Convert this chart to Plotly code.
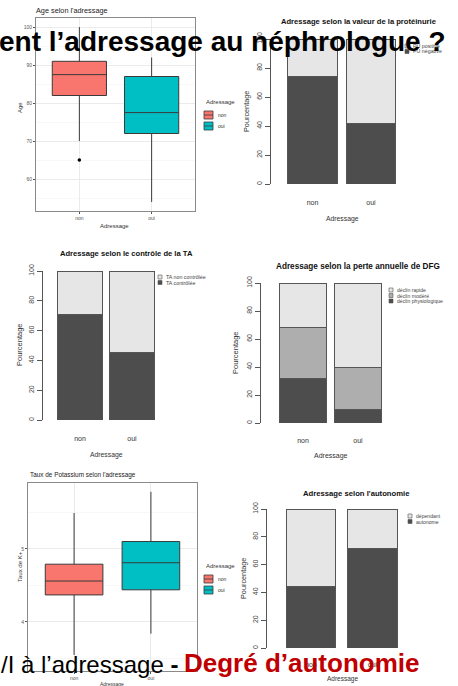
import plotly.graph_objects as go

W, H = 458, 686
FONT = "Liberation Sans, Arial, sans-serif"

# ---------------- data ----------------
groups = ["non", "oui"]

# Age selon l'adressage (boxplot stats)
age_q1 = [82, 72]
age_median = [87.5, 77.5]
age_q3 = [91, 87]
age_low = [70, 54]
age_high = [100, 92]
age_outlier_group = ["non"]
age_outlier = [65]

# Taux de Potassium selon l'adressage
k_q1 = [4.37, 4.44]
k_median = [4.56, 4.81]
k_q3 = [4.79, 5.10]
k_low = [3.55, 3.84]
k_high = [5.49, 5.78]

# Proteinurie (%)
pu_names = ["PU négative", "PU positive"]
pu_negative = [74, 42]
pu_positive = [26, 58]

# Controle de la TA (%)
ta_names = ["TA contrôlée", "TA non contrôlée"]
ta_controlee = [71, 45]
ta_non_controlee = [29, 55]

# Perte annuelle de DFG (%)
dfg_names = ["déclin physiologique", "déclin modéré", "déclin rapide"]
dfg_physio = [31.5, 10]
dfg_modere = [37, 29.5]
dfg_rapide = [31.5, 60.5]

# Autonomie (%)
auto_names = ["autonome", "dépendant"]
auto_autonome = [44.5, 71.5]
auto_dependant = [55.5, 28.5]

box_colors = ["#F8766D", "#00BFC4"]
grey3 = ["#4D4D4D", "#AEAEAE", "#E6E6E6"]


def fx(x):
    return x / W


def fy(y):
    return 1 - y / H


fig = go.Figure()
annotations = []
shapes = []


def txt(x, y, s, size, color="#333333", xanchor="center", yanchor="middle", angle=0):
    annotations.append(dict(x=fx(x), y=fy(y), xref="paper", yref="paper", text=s,
                            showarrow=False, xanchor=xanchor, yanchor=yanchor,
                            textangle=angle, font=dict(size=size, color=color, family=FONT)))


# ---------------- ggplot-style boxplots ----------------
def gg_box(axn, q1, med, q3, lo, hi):
    for i, g in enumerate(groups):
        fig.add_trace(go.Box(
            x=[g], q1=[q1[i]], median=[med[i]], q3=[q3[i]],
            lowerfence=[lo[i]], upperfence=[hi[i]],
            fillcolor=box_colors[i], line=dict(color="#3a3a3a", width=1),
            whiskerwidth=0, width=0.75, boxpoints=False, showlegend=False,
            xaxis="x" + axn, yaxis="y" + axn, hoverinfo="skip"))


def gg_axes(axn, xd, yd, yr, dtick, minor_dtick):
    xa = dict(domain=[fx(xd[0]), fx(xd[1])], range=[-0.6, 1.6], type="category",
              showgrid=True, gridcolor="#ebebeb", gridwidth=1, showline=True,
              linecolor="#8a8a8a", linewidth=1, mirror=True, ticks="outside",
              ticklen=2, tickcolor="#555", tickfont=dict(size=5, color="#555", family=FONT),
              zeroline=False, fixedrange=True, automargin=False)
    ya = dict(domain=[fy(yd[1]), fy(yd[0])], range=yr, dtick=dtick,
              showgrid=True, gridcolor="#ebebeb", gridwidth=1, showline=True,
              linecolor="#8a8a8a", linewidth=1, mirror=True, ticks="outside",
              ticklen=2, tickcolor="#555", tickfont=dict(size=5, color="#555", family=FONT),
              minor=dict(dtick=minor_dtick, showgrid=True, gridcolor="#f4f4f4", gridwidth=0.6),
              zeroline=False, fixedrange=True, automargin=False)
    xa["anchor"] = "y" + axn
    ya["anchor"] = "x" + axn
    return xa, ya


def gg_legend(x, ytitle):
    txt(x, ytitle, "Adressage", 6, xanchor="left")
    for i, g in enumerate(groups):
        yc = ytitle + 13 + 11 * i
        shapes.append(dict(type="rect", xref="paper", yref="paper",
                           x0=fx(x), x1=fx(x + 9), y0=fy(yc + 4), y1=fy(yc - 4),
                           fillcolor=box_colors[i], line=dict(color="#3a3a3a", width=0.8)))
        shapes.append(dict(type="line", xref="paper", yref="paper",
                           x0=fx(x), x1=fx(x + 9), y0=fy(yc), y1=fy(yc),
                           line=dict(color="#3a3a3a", width=0.8)))
        txt(x + 12, yc, g, 5, xanchor="left")


# Panel 1: Age
gg_box("", age_q1, age_median, age_q3, age_low, age_high)
fig.add_trace(go.Scatter(x=age_outlier_group, y=age_outlier, mode="markers",
                         marker=dict(size=3.5, color="black"), showlegend=False,
                         xaxis="x", yaxis="y", hoverinfo="skip"))
xa, ya = gg_axes("", (36, 195), (18, 211), [51.6, 102.4], 10, 5)
fig.update_layout(xaxis=xa, yaxis=ya)
txt(34, 10, "Age selon l'adressage", 7.3, xanchor="left", color="#222")
txt(115, 226, "Adressage", 6)
txt(20, 108, "Age", 6, angle=-90)
gg_legend(204, 102)

# Panel 5: Potassium
gg_box("5", k_q1, k_median, k_q3, k_low, k_high)
xa, ya = gg_axes("5", (28, 197), (483, 671), [3.33, 5.90], 1, 0.5)
fig.update_layout(xaxis5=xa, yaxis5=ya)
txt(28, 475, "Taux de Potassium selon l'adressage", 6.4, xanchor="left", color="#222")
txt(112, 684, "Adressage", 5)
txt(20, 567, "Taux de K+", 6, angle=-90)
gg_legend(204, 566)


# ---------------- R base-style stacked barplots ----------------
def r_bars(axn, series, colors, width):
    for vals, col in zip(series, colors):
        fig.add_trace(go.Bar(x=groups, y=vals, marker=dict(color=col, line=dict(color="#555", width=1)),
                             width=width, showlegend=False, xaxis="x" + axn, yaxis="y" + axn,
                             hoverinfo="skip"))


def r_axes(axn, ax_left, ax_right, c0, c1, y0, y100, lab_gap):
    sp = c1 - c0
    xa = dict(domain=[fx(ax_left), fx(ax_right)],
              range=[-(c0 - ax_left) / sp, 1 + (ax_right - c1) / sp], type="category",
              showline=False, showgrid=False, zeroline=False, ticks="outside", ticklen=lab_gap,
              tickcolor="rgba(0,0,0,0)", tickfont=dict(size=7, color="#333333", family=FONT),
              anchor="y" + axn, fixedrange=True, automargin=False)
    ya = dict(domain=[fy(y0), fy(y100)], range=[0, 100], dtick=20, showline=True,
              linecolor="#555", linewidth=1, ticks="outside", ticklen=5, tickcolor="#555",
              tickangle=-90, tickfont=dict(size=7, color="#444444", family=FONT),
              showgrid=False, zeroline=False, anchor="x" + axn, fixedrange=True,
              automargin=False)
    return xa, ya


def r_legend(x, ytop, names, colors, size):
    n = len(names)
    for k in range(n):
        idx = n - 1 - k
        yc = ytop + 5.5 * k
        shapes.append(dict(type="rect", xref="paper", yref="paper",
                           x0=fx(x), x1=fx(x + 4), y0=fy(yc + 2), y1=fy(yc - 2),
                           fillcolor=colors[idx], line=dict(color="#555", width=0.6)))
        txt(x + 5.5, yc, names[idx], size, xanchor="left", color="#444")


# Panel 2: proteinurie
r_bars("2", [pu_negative, pu_positive], [grey3[0], grey3[2]], 0.84)
xa, ya = r_axes("2", 271, 420, 312.5, 371, 184, 39, 12)
fig.update_layout(xaxis2=xa, yaxis2=ya)
txt(358, 22, "<b>Adressage selon la valeur de la protéinurie</b>", 7.6, color="#111")
txt(342, 219, "Adressage", 6.8)
txt(247, 112, "Pourcentage", 7.3, angle=-90)
r_legend(405, 46, pu_names, [grey3[0], grey3[2]], 5.3)

# Panel 3: TA
r_bars("3", [ta_controlee, ta_non_controlee], [grey3[0], grey3[2]], 0.85)
xa, ya = r_axes("3", 43, 200, 80, 132, 420, 271, 12)
fig.update_layout(xaxis3=xa, yaxis3=ya)
txt(127, 253, "<b>Adressage selon le contrôle de la TA</b>", 7.6, color="#111")
txt(106, 455, "Adressage", 6.8)
txt(19, 345, "Pourcentage", 7.5, angle=-90)
r_legend(158, 277, ta_names, [grey3[0], grey3[2]], 5.3)

# Panel 4: DFG
r_bars("4", [dfg_physio, dfg_modere, dfg_rapide], grey3, 0.84)
xa, ya = r_axes("4", 261, 420, 303, 358, 423, 283, 11)
fig.update_layout(xaxis4=xa, yaxis4=ya)
txt(358, 266, "<b>Adressage selon la perte annuelle de DFG</b>", 8.2, color="#111")
txt(331, 456, "Adressage", 7)
txt(235, 353, "Pourcentage", 7.5, angle=-90)
r_legend(389, 290, dfg_names, grey3, 5.1)

# Panel 6: autonomie
r_bars("6", [auto_autonome, auto_dependant], [grey3[0], grey3[2]], 0.81)
xa, ya = r_axes("6", 267, 420, 311, 372.5, 648, 509, 10)
fig.update_layout(xaxis6=xa, yaxis6=ya)
txt(356, 493, "<b>Adressage selon l'autonomie</b>", 7.7, color="#111")
txt(342, 679, "Adressage", 6.5)
txt(243, 578, "Pourcentage", 7.3, angle=-90)
r_legend(408, 516, auto_names, [grey3[0], grey3[2]], 5.1)

# ---------------- slide overlay texts ----------------
txt(448, 41, "<b>ent l’adressage au néphrologue ?</b>", 28, color="#000000", xanchor="right")
txt(-1, 664, "/I à l’adressage <b>-</b>", 24, color="#000000", xanchor="left")
txt(182, 663, "<b>Degré d’autonomie</b>", 26, color="#C00000", xanchor="left")

fig.update_layout(width=W, height=H, margin=dict(l=0, r=0, t=0, b=0, autoexpand=False),
                  paper_bgcolor="white", plot_bgcolor="white", barmode="stack",
                  boxmode="overlay", showlegend=False,
                  annotations=annotations, shapes=shapes)

fig.write_html("out.html", config={"displayModeBar": False, "staticPlot": True},
               post_script="document.body.style.margin='0px';")
